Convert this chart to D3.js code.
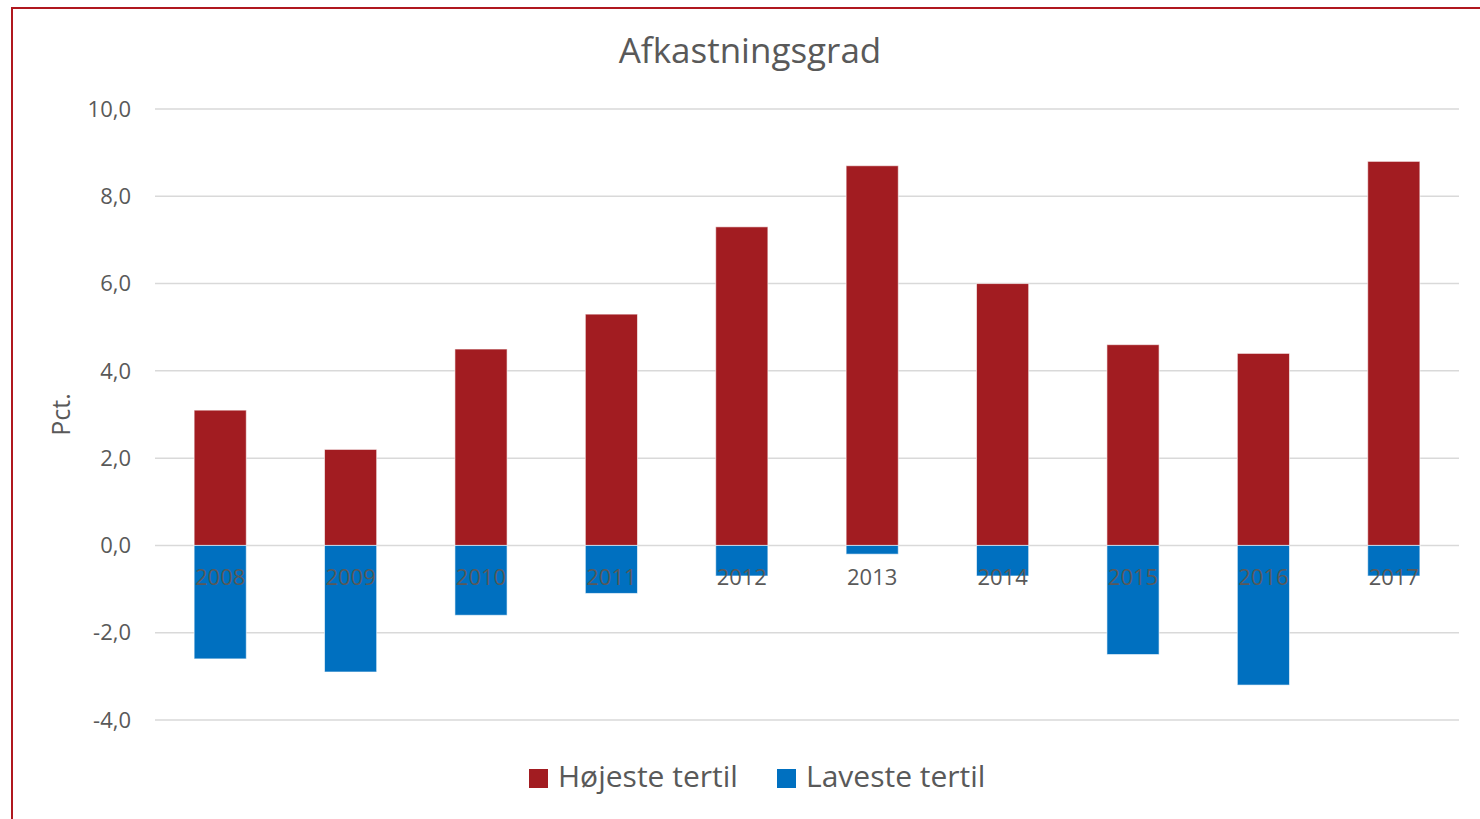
<!DOCTYPE html>
<html>
<head>
<meta charset="utf-8">
<script src="https://cdn.jsdelivr.net/npm/d3@7"></script>
<style>
  body { margin: 0; background: #fff; }
  svg { display: block; font-family: "Open Sans", "Noto Sans", sans-serif; }
</style>
</head>
<body>
<div id="chart"></div>
<script>
// data
const years = ['2008', '2009', '2010', '2011', '2012', '2013', '2014', '2015', '2016', '2017'];
const hoejeste = [3.1, 2.2, 4.5, 5.3, 7.3, 8.7, 6.0, 4.6, 4.4, 8.8];
const laveste = [-2.6, -2.9, -1.6, -1.1, -0.7, -0.2, -0.7, -2.5, -3.2, -0.7];
const yTicks = [-4, -2, 0, 2, 4, 6, 8, 10];
const seriesNames = ['Højeste tertil', 'Laveste tertil'];
const colors = ['#A21C21', '#0070C0'];

const width = 1480, height = 819;
const textColor = '#595959';

const svg = d3.select('#chart').append('svg')
  .attr('width', width)
  .attr('height', height);

// outer frame (only top and left edges visible in the crop)
svg.append('rect')
  .attr('x', 12).attr('y', 8)
  .attr('width', width + 20).attr('height', height + 20)
  .attr('fill', 'none')
  .attr('stroke', '#B0181F')
  .attr('stroke-width', 2);

const x = d3.scaleBand()
  .domain(years)
  .range([155, 1459])
  .paddingInner(0.6)
  .paddingOuter(0.3);

const y = d3.scaleLinear()
  .domain([-4, 10])
  .range([720, 109]);

// title
svg.append('text')
  .attr('x', 750).attr('y', 63)
  .attr('text-anchor', 'middle')
  .attr('fill', textColor)
  .style('font-size', '35px')
  .text('Afkastningsgrad');

// gridlines
svg.append('g')
  .selectAll('line')
  .data(yTicks)
  .join('line')
  .attr('x1', 155).attr('x2', 1459)
  .attr('y1', d => y(d)).attr('y2', d => y(d))
  .attr('stroke', '#d9d9d9')
  .attr('stroke-width', 1.5);

// y tick labels
svg.append('g')
  .selectAll('text')
  .data(yTicks)
  .join('text')
  .attr('x', 131)
  .attr('y', d => y(d))
  .attr('dy', '0.35em')
  .attr('text-anchor', 'end')
  .attr('fill', textColor)
  .style('font-size', '22px')
  .text(d => d3.format('.1f')(d).replace('.', ',').replace('−', '-'));

// y axis title
svg.append('text')
  .attr('transform', `translate(70,${(y(10) + y(-4)) / 2}) rotate(-90)`)
  .attr('text-anchor', 'middle')
  .attr('fill', textColor)
  .style('font-size', '25px')
  .text('Pct.');

// bars
const series = [hoejeste, laveste];
series.forEach((values, s) => {
  svg.append('g')
    .selectAll('rect')
    .data(years)
    .join('rect')
    .attr('x', d => x(d))
    .attr('width', x.bandwidth())
    .attr('y', (d, i) => y(Math.max(0, values[i])))
    .attr('height', (d, i) => Math.abs(y(values[i]) - y(0)))
    .attr('fill', colors[s])
    .attr('stroke', '#ffffff')
    .attr('stroke-opacity', 0.6)
    .attr('stroke-width', 1);
});

// category labels, drawn over the bars like the original
svg.append('g')
  .selectAll('text')
  .data(years)
  .join('text')
  .attr('x', d => x(d) + x.bandwidth() / 2)
  .attr('y', 585)
  .attr('text-anchor', 'middle')
  .attr('fill', textColor)
  .style('font-size', '22px')
  .text(d => d);

// legend
const legendX = [529, 777];
const legend = svg.append('g')
  .selectAll('g')
  .data(seriesNames)
  .join('g')
  .attr('transform', (d, i) => `translate(${legendX[i]},769)`);

legend.append('rect')
  .attr('width', 19).attr('height', 19)
  .attr('fill', (d, i) => colors[i]);

legend.append('text')
  .attr('x', 29).attr('y', 18)
  .attr('fill', textColor)
  .style('font-size', '30px')
  .text(d => d);
</script>
</body>
</html>
